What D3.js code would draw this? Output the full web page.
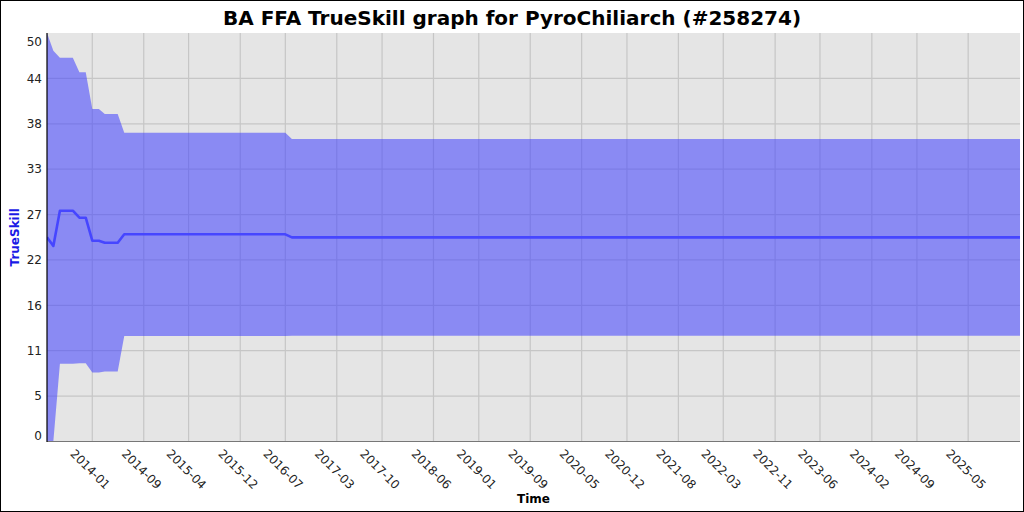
<!DOCTYPE html>
<html>
<head>
<meta charset="utf-8">
<script src="https://cdn.jsdelivr.net/npm/d3@7"></script>
<style>
  html, body { margin: 0; padding: 0; background: #fff; }
  svg { display: block; }
  text { font-family: "DejaVu Sans", sans-serif; }
</style>
</head>
<body>
<svg id="chart" width="1024" height="512"></svg>
<script>
// ---- data ----
const dates = ["2013-06-01","2013-07-01","2013-08-01","2013-10-01","2013-11-01","2013-12-01",
               "2014-01-01","2014-02-01","2014-03-01","2014-05-01","2014-06-01","2016-07-01",
               "2016-08-01","2026-01-01"];
const mean  = [25.00, 23.93, 28.25, 28.25, 27.39, 27.39, 24.58, 24.58, 24.33, 24.33, 25.36, 25.36, 24.99, 24.99];
const upper = [50.00, 47.84, 46.98, 46.98, 45.19, 45.19, 40.70, 40.70, 40.08, 40.08, 37.80, 37.80, 37.03, 37.03];
const lower = [0.00,  0.02,  9.52,  9.52,  9.59,  9.59,  8.46,  8.46,  8.58,  8.58, 12.92, 12.92, 12.95, 12.95];

const xTickLabels = ["2014-01","2014-09","2015-04","2015-12","2016-07","2017-03","2017-10","2018-06",
                     "2019-01","2019-09","2020-05","2020-12","2021-08","2022-03","2022-11","2023-06",
                     "2024-02","2024-09","2025-05"];
const yTickLabels = ["0","5","11","16","22","27","33","38","44","50"];
const yMax = 50;

const title = "BA FFA TrueSkill graph for PyroChiliarch (#258274)";
const xTitle = "Time";
const yTitle = "TrueSkill";

// ---- layout ----
const W = 1024, H = 512;
const plot = { left: 47, right: 1020, top: 33, bottom: 441.5 };

const parse = d3.utcParse("%Y-%m-%d");
const parseM = d3.utcParse("%Y-%m");
const pts = dates.map((d, i) => ({ t: parse(d), m: mean[i], hi: upper[i], lo: lower[i] }));

const x = d3.scaleUtc()
  .domain(d3.extent(pts, p => p.t))
  .range([plot.left, plot.right]);
const y = d3.scaleLinear().domain([0, yMax]).range([plot.bottom, plot.top]);

const yTickVals = yTickLabels.map((_, i) => i * yMax / (yTickLabels.length - 1));
const xTickVals = xTickLabels.map(s => parseM(s));

const svg = d3.select("#chart");

// outer border
svg.append("rect").attr("x", 0.5).attr("y", 0.5).attr("width", W - 1).attr("height", H - 1)
  .attr("fill", "#fff").attr("stroke", "#000");

// plot background
svg.append("rect")
  .attr("x", plot.left).attr("y", plot.top)
  .attr("width", plot.right - plot.left).attr("height", plot.bottom - plot.top)
  .attr("fill", "#e5e5e5");

// grid
const grid = svg.append("g").attr("stroke", "#c6c6c6").attr("stroke-width", 1.2);
grid.selectAll("line.v").data(xTickVals).join("line")
  .attr("x1", d => x(d)).attr("x2", d => x(d))
  .attr("y1", plot.top).attr("y2", plot.bottom);
grid.selectAll("line.h").data(yTickVals.slice(1, -1)).join("line")
  .attr("x1", plot.left).attr("x2", plot.right)
  .attr("y1", d => y(d)).attr("y2", d => y(d));

// clip
svg.append("clipPath").attr("id", "clip").append("rect")
  .attr("x", plot.left).attr("y", plot.top)
  .attr("width", plot.right - plot.left).attr("height", plot.bottom - plot.top);

const g = svg.append("g").attr("clip-path", "url(#clip)");

// band
const area = d3.area().x(p => x(p.t)).y0(p => y(p.lo)).y1(p => y(p.hi));
g.append("path").datum(pts).attr("d", area)
  .attr("fill", "rgb(64,64,255)").attr("fill-opacity", 0.55);

// mean line
const line = d3.line().x(p => x(p.t)).y(p => y(p.m));
g.append("path").datum(pts).attr("d", line)
  .attr("fill", "none").attr("stroke", "#4646ff").attr("stroke-width", 2.6)
  .attr("stroke-linejoin", "round");

// axes lines
svg.append("line").attr("x1", plot.left).attr("x2", plot.right)
  .attr("y1", plot.bottom).attr("y2", plot.bottom).attr("stroke", "#777").attr("stroke-width", 1.2);
svg.append("line").attr("x1", plot.left).attr("x2", plot.left)
  .attr("y1", plot.top).attr("y2", plot.bottom + 0.5).attr("stroke", "#000").attr("stroke-width", 1.2);

// y tick labels
svg.append("g").selectAll("text").data(yTickVals).join("text")
  .attr("x", plot.left - 5)
  .attr("y", d => Math.min(Math.max(y(d), plot.top + 9), plot.bottom - 6))
  .attr("dy", "0.35em")
  .attr("text-anchor", "end")
  .attr("font-size", 12).attr("fill", "#222")
  .text((d, i) => yTickLabels[i]);

// x tick labels (rotated 45°)
svg.append("g").selectAll("text").data(xTickVals).join("text")
  .attr("transform", d => `translate(${x(d) - 22.8},${454.5}) rotate(45)`)
  .attr("text-anchor", "start")
  .attr("font-size", 12).attr("fill", "#222")
  .text((d, i) => xTickLabels[i]);

// titles
svg.append("text").attr("x", 512).attr("y", 25).attr("text-anchor", "middle")
  .attr("font-size", 20).attr("font-weight", "bold").attr("fill", "#000").text(title);
svg.append("text").attr("x", (plot.left + plot.right) / 2).attr("y", 503).attr("text-anchor", "middle")
  .attr("font-size", 12).attr("font-weight", "bold").attr("fill", "#000").text(xTitle);
svg.append("text")
  .attr("transform", `translate(19,${(plot.top + plot.bottom) / 2}) rotate(-90)`)
  .attr("text-anchor", "middle")
  .attr("font-size", 12).attr("font-weight", "bold").attr("fill", "#1a1ae6").text(yTitle);
</script>
</body>
</html>
